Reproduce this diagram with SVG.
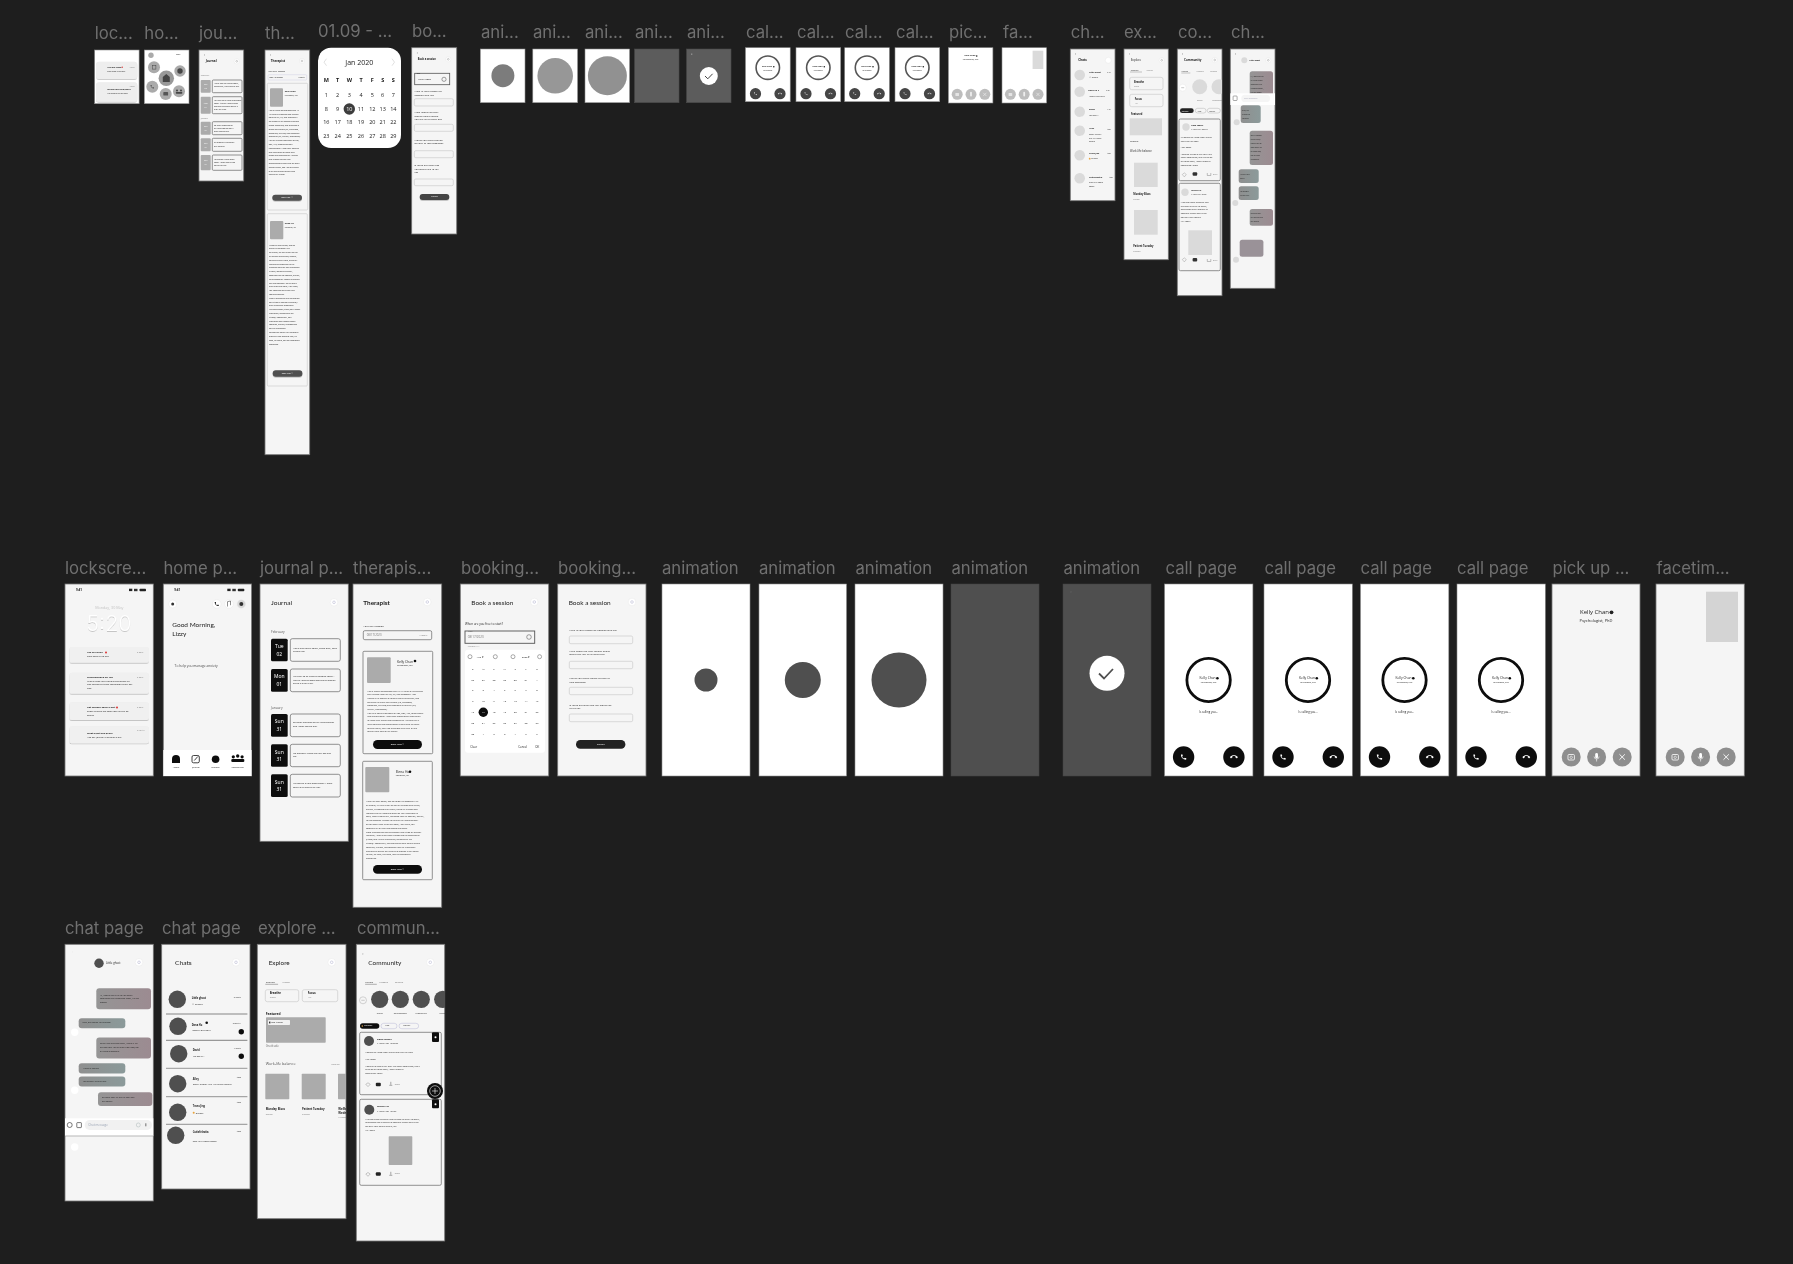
<svg xmlns="http://www.w3.org/2000/svg" width="1793" height="1264" viewBox="0 0 1793 1264">
<style>
text{font-family:"Open Sans","Noto Sans",sans-serif;fill:#1a1a1a;dominant-baseline:central}
.lbl{font-family:"Inter","Liberation Sans",sans-serif;font-size:16.700px;fill:#6f6f6f;dominant-baseline:auto}
.fr{fill:#f5f5f5;stroke:#777;stroke-width:.8}
.wh{fill:#fff;stroke:#8c8c8c;stroke-width:.6}
.dk{fill:#4f4f4f;stroke:#444;stroke-width:.6}
.box{fill:#f5f5f5;stroke:#666;stroke-width:.7}
.inp{fill:#f5f5f5;stroke:#c4c4c4;stroke-width:.6}
.ph{fill:#ababab}
.ph2{fill:#dadada}
.av{fill:#4f4f4f}
.blk{fill:#111}
.wc{fill:#fff;stroke:#e4e4e4;stroke-width:.4}
.wt{fill:#fff}
.g{fill:#777}
.b{font-weight:700}
.c{text-anchor:middle}
.e{text-anchor:end}
.s15{font-size:1.600px}.s18{font-size:1.900px}.s2{font-size:2.100px}.s23{font-size:2.300px}.s25{font-size:2.500px}.s28{font-size:2.800px}.s3{font-size:3px}.s33{font-size:3.300px}.s37{font-size:3.700px}.s4{font-size:4px}.s5{font-size:5px}.s55{font-size:5.500px}.s6{font-size:6px}.s7{font-size:7px}
.h{font-family:"Lato",sans-serif;font-size:6.400px}
</style>
<defs>
<symbol id="i-call" viewBox="0 0 24 24"><path d="M6.600 10.800c1.400 2.800 3.800 5.100 6.600 6.600l2.200-2.200c.3-.3.700-.4 1-.2 1.100.4 2.300.6 3.600.6.600 0 1 .4 1 1V20c0 .6-.4 1-1 1C10.600 21 3 13.400 3 4c0-.6.4-1 1-1h3.500c.6 0 1 .4 1 1 0 1.200.2 2.400.6 3.600.1.300 0 .7-.2 1z"/></symbol>
<symbol id="i-end" viewBox="0 0 24 24"><path d="M12 9c-1.600 0-3.100.3-4.600.7v3.100c0 .4-.2.700-.6.900-1 .5-1.900 1.100-2.700 1.900-.2.200-.4.300-.7.300s-.5-.1-.7-.3L.3 13.100c-.2-.2-.3-.4-.3-.7s.1-.5.300-.7C3.300 8.800 7.400 7 12 7s8.700 1.800 11.700 4.700c.2.200.3.400.3.700s-.1.500-.3.700l-2.500 2.500c-.2.200-.4.300-.7.300s-.5-.1-.7-.3c-.8-.8-1.700-1.400-2.700-1.900-.3-.2-.6-.5-.6-.9V9.700C15.100 9.300 13.600 9 12 9z"/></symbol>
<linearGradient id="gOut" x1="0" y1="0" x2="1" y2="0"><stop offset="0" stop-color="#959595"/><stop offset="1" stop-color="#9c8b91"/></linearGradient>
<linearGradient id="gIn" x1="0" y1="0" x2="1" y2="0"><stop offset="0" stop-color="#8f8f8f"/><stop offset="1" stop-color="#8b9a9a"/></linearGradient>
<filter id="soft" x="0" y="0" width="1793" height="1264" filterUnits="userSpaceOnUse"><feGaussianBlur stdDeviation="0.35"/></filter>
<filter id="sh" x="-10%" y="-30%" width="120%" height="170%"><feDropShadow dx="0" dy=".7" stdDeviation=".6" flood-color="#000" flood-opacity=".28"/></filter>
<g id="callbody">
<rect class="wh" width="88.300" height="192"/>
<circle cx="44" cy="96" r="21.700" fill="none" stroke="#0c0c0c" stroke-width="2.800"/>
<text class="c s28" x="43" y="94.300" textLength="16" lengthAdjust="spacingAndGlyphs">Kelly Chan</text><circle cx="52.800" cy="94.300" r="1.300" fill="#111"/>
<text class="c s18" x="44" y="98.300">Psychologist, PhD</text>
<text class="c s28" x="44" y="128.300">Is calling you...</text>
<circle class="blk" cx="19" cy="173" r="10.700"/><use href="#i-call" x="15.500" y="169.500" width="7" height="7" fill="#fff"/>
<circle class="blk" cx="69.300" cy="173" r="10.700"/><use href="#i-end" x="65.300" y="169" width="8" height="8" fill="#fff"/>
</g>
<g id="calltop">
<rect class="wh" width="44.700" height="54"/>
<circle cx="22.300" cy="20" r="11.700" fill="none" stroke="#555" stroke-width="1.600"/>
<text class="c s18 b" x="21.500" y="19">Kelly Chan</text><circle cx="28.300" cy="19" r=".8" fill="#222"/>
<text class="c s15" x="22.300" y="22.500">Psychologist</text>
<circle cx="10" cy="46" r="5.600" fill="#444"/><use href="#i-call" x="8" y="44" width="4" height="4" fill="#ddd"/>
<circle cx="34.500" cy="46" r="5.600" fill="#444"/><use href="#i-end" x="32.300" y="43.800" width="4.400" height="4.400" fill="#ddd"/>
</g>
<g id="gbtns">
<circle cx="0" cy="0" r="9.500" fill="#8e8e8e"/><rect x="-3.200" y="-2.500" width="6.400" height="5.500" rx="1" fill="none" stroke="#fff" stroke-width=".8"/><circle cy=".3" r="1.200" fill="none" stroke="#fff" stroke-width=".6"/>
<circle cx="25.400" cy="0" r="9.500" fill="#8e8e8e"/><rect x="24" y="-4" width="2.800" height="5.500" rx="1.400" fill="#fff"/><path d="M22.900-.5a2.500 2.500 0 0 0 5 0M25.400 2v2.500" fill="none" stroke="#fff" stroke-width=".6"/>
<circle cx="51" cy="0" r="9.500" fill="#8e8e8e"/><path d="M48.300-2.700l5.400 5.400M53.700-2.700l-5.400 5.400" stroke="#fff" stroke-width=".9"/>
</g>
<g id="gbtnst">
<circle cx="0" cy="0" r="5.500" fill="#bdbdbd"/><rect x="-1.800" y="-1.400" width="3.600" height="3" rx=".5" fill="#e4e4e4"/>
<circle cx="13.800" cy="0" r="5.500" fill="#bdbdbd"/><rect x="12.900" y="-2.500" width="1.800" height="4.600" rx=".9" fill="#eee"/>
<circle cx="27.600" cy="0" r="5.500" fill="#bdbdbd"/><path d="M26-1.500l3.200 3.200M29.200-1.500l-3.200 3.200" stroke="#eee" stroke-width=".6"/>
</g>
<g id="status"><rect x="64" y="4.700" width="3.300" height="2.400" fill="#222"/><rect x="69" y="4.800" width="3.500" height="2.400" fill="#333"/><rect x="74.500" y="4.700" width="6.500" height="2.600" rx=".7" fill="#222"/></g>
<g id="srch"><circle r="3.800" class="wc"/><circle r="1.300" fill="none" stroke="#9a9ac0" stroke-width=".4"/></g>
<g id="srcht"><circle r="2.600" class="wc"/><circle r=".9" fill="none" stroke="#666" stroke-width=".3"/></g>
</defs>

<rect width="1793" height="1264" fill="#1e1e1e"/>

<g id="canvas" filter="url(#soft)">
<g id="labels">
<text class="lbl" x="94.700" y="38.500">loc...</text><text class="lbl" x="144.300" y="38.500">ho...</text><text class="lbl" x="199" y="38.500">jou...</text><text class="lbl" x="265" y="38.500">th...</text><text class="lbl" x="318" y="37">01.09 - ...</text><text class="lbl" x="412" y="37">bo...</text>
<text class="lbl" x="481" y="38">ani...</text><text class="lbl" x="533" y="38">ani...</text><text class="lbl" x="585" y="38">ani...</text><text class="lbl" x="635" y="38">ani...</text><text class="lbl" x="687" y="38">ani...</text>
<text class="lbl" x="746" y="38">cal...</text><text class="lbl" x="797" y="38">cal...</text><text class="lbl" x="845" y="38">cal...</text><text class="lbl" x="896" y="38">cal...</text><text class="lbl" x="949" y="38">pic...</text><text class="lbl" x="1003" y="38">fa...</text>
<text class="lbl" x="1070.700" y="38">ch...</text><text class="lbl" x="1124" y="38">ex...</text><text class="lbl" x="1178" y="38">co...</text><text class="lbl" x="1231" y="38">ch...</text>
<text class="lbl" x="65" y="574">lockscre...</text><text class="lbl" x="163.500" y="574">home p...</text><text class="lbl" x="260" y="574">journal p...</text><text class="lbl" x="353" y="574">therapis...</text><text class="lbl" x="461" y="574">booking...</text><text class="lbl" x="558" y="574">booking...</text>
<text class="lbl" x="662" y="574">animation</text><text class="lbl" x="759" y="574">animation</text><text class="lbl" x="855.500" y="574">animation</text><text class="lbl" x="951.500" y="574">animation</text><text class="lbl" x="1063.500" y="574">animation</text>
<text class="lbl" x="1165.500" y="574">call page</text><text class="lbl" x="1264.500" y="574">call page</text><text class="lbl" x="1360.500" y="574">call page</text><text class="lbl" x="1457" y="574">call page</text><text class="lbl" x="1552.500" y="574">pick up ...</text><text class="lbl" x="1656.500" y="574">facetim...</text>
<text class="lbl" x="65" y="934">chat page</text><text class="lbl" x="162" y="934">chat page</text><text class="lbl" x="258" y="934">explore ...</text><text class="lbl" x="357" y="934">commun...</text>
</g>

<g id="top-lock" transform="translate(94.700 50)">
<rect class="wh" width="44.400" height="53.700"/>
<rect x="1.300" y="11.700" width="41.300" height="17.300" rx="3" fill="#eee" filter="url(#sh)"/><rect x="1.300" y="32.300" width="41.300" height="19.400" rx="3" fill="#eee" filter="url(#sh)"/>
<text class="s2 b" x="12.600" y="17.300">You are loved</text><text class="s18" x="12.600" y="21.300">Time goes by so well</text><text class="s15 g" x="35" y="17">5 days</text><circle cx="27.500" cy="17.300" r=".7" fill="#d33"/>
<text class="s2 b" x="12.600" y="39.300">Where have you been?</text><text class="s18" x="12.600" y="43.300">We missed you 30 days</text><text class="s15 g" x="35" y="36">5 days</text>
</g>
<g id="top-home" transform="translate(144.300 50)">
<rect class="wh" width="44.700" height="53.700"/>
<text class="s2 b" x="32" y="4.300">9:41</text>
<circle cx="6.700" cy="5.300" r="2.700" fill="#aaa"/><circle cx="22" cy="28.300" r="7.700" fill="#999"/><path d="M18.500 32v-5l3.500-3 3.500 3v5z" fill="#444"/>
<circle cx="9.700" cy="17.300" r="6" fill="#aaa"/><rect x="8" y="15.500" width="3.600" height="3.600" fill="none" stroke="#444" stroke-width=".5"/>
<circle cx="35.700" cy="21" r="5.700" fill="#aaa"/><circle cx="35.700" cy="21" r="2.700" fill="#444"/>
<circle cx="8" cy="36.700" r="6" fill="#aaa"/><use href="#i-call" x="5.700" y="34.500" width="4.500" height="4.500" fill="#444"/>
<circle cx="34.700" cy="41.300" r="6" fill="#aaa"/><circle cx="32.700" cy="40.500" r="1" fill="#444"/><circle cx="36.700" cy="40.500" r="1" fill="#444"/><rect x="31.500" y="42" width="6.500" height="1.800" rx=".7" fill="#444"/>
<circle cx="21.400" cy="44" r="6" fill="#aaa"/><rect x="19" y="42" width="4.800" height="3.600" rx=".7" fill="#555"/>
</g>
<g id="top-journal" transform="translate(199 50)">
<rect class="fr" width="44.700" height="131"/>
<text class="s3" x="5" y="5">‹</text><text class="s3 b" x="6.700" y="11.300">Journal</text><use href="#srcht" x="37.700" y="11.300"/>
<text class="s2 g" x="1.700" y="25.700">February</text>
<rect class="ph" x="1.700" y="30" width="10" height="12.700" rx="1"/><rect class="box" x="13.300" y="30" width="29.700" height="12.700" rx="1"/>
<text class="s18" x="15" y="33.500">Had a bad day earlier today,</text><text class="s18" x="15" y="36.500">that's okay, can't believe me.</text>
<rect class="ph" x="1.700" y="46.700" width="10" height="17" rx="1"/><rect class="box" x="13.300" y="46.700" width="29.700" height="17" rx="1"/>
<text class="s18" x="15" y="50">I'm lucky to be back to perform</text><text class="s18" x="15" y="53">today. Maybe I should start</text><text class="s18" x="15" y="56">working on getting out of a</text><text class="s18" x="15" y="59">busy life cycle.</text>
<text class="s2 g" x="1.700" y="68.300">January</text>
<rect class="ph" x="1.700" y="71.700" width="10" height="13" rx="1"/><rect class="box" x="13.300" y="71.700" width="29.700" height="13" rx="1"/>
<text class="s18" x="15" y="75">So many thoughts on</text><text class="s18" x="15" y="78">my mind tonight and I</text><text class="s18" x="15" y="81">don't feeling fine.</text>
<rect class="ph" x="1.700" y="88.300" width="10" height="13" rx="1"/><rect class="box" x="13.300" y="88.300" width="29.700" height="13" rx="1"/>
<text class="s18" x="15" y="92.500">It's probably just to the</text><text class="s18" x="15" y="96">day not bad.</text>
<rect class="ph" x="1.700" y="105" width="10" height="15.300" rx="1"/><rect class="box" x="13.300" y="105" width="29.700" height="15.300" rx="1"/>
<text class="s18" x="15" y="109">I'm feeling a little down</text><text class="s18" x="15" y="112">today. I hope there is an</text><text class="s18" x="15" y="115">end to my day.</text>
<g class="s18 c"><text class="wt" x="6.700" y="34">Tue</text><text class="wt" x="6.700" y="38">02</text><text class="wt" x="6.700" y="53">Mon</text><text class="wt" x="6.700" y="57">01</text><text class="wt" x="6.700" y="76">Sun</text><text class="wt" x="6.700" y="80">31</text><text class="wt" x="6.700" y="93">Sun</text><text class="wt" x="6.700" y="97">31</text><text class="wt" x="6.700" y="110">Sun</text><text class="wt" x="6.700" y="114">31</text></g>
</g>
<g id="top-therapist" transform="translate(265 50)">
<rect class="fr" width="44.700" height="404.700"/>
<text class="s3" x="5" y="5">‹</text><text class="s3 b" x="5.700" y="11">Therapist</text><use href="#srcht" x="37" y="11"/>
<text class="s2" x="3" y="21.300">Your next session</text>
<rect x="3" y="24.700" width="38.700" height="5.300" rx="1" fill="#f5f5f5" stroke="#c8c8e0" stroke-width=".4"/><text class="s25" x="4.500" y="27.400">08/17/2020</text><text class="s18" x="33" y="27.400">1:30PM</text>
<rect x="2.300" y="33.300" width="40.400" height="126.700" rx="1" fill="#f5f5f5" stroke="#c6c6c6" stroke-width=".6"/>
<rect class="ph" x="5" y="38.300" width="13" height="18.400" rx="1"/>
<text class="s2 b" x="19.700" y="41.300">Kelly Chan</text><text class="s15" x="19.700" y="45">Psychologist, PhD</text>
<g class="s18"><text x="3.700" y="60.300">I am a clinical psychologist with 15-</text><text x="3.700" y="64.100">19 years of expertise with training</text><text x="3.700" y="67.900">from the US, UK, and Singapore. I</text><text x="3.700" y="71.700">am trained in all aspects of mental</text><text x="3.700" y="75.500">health difficulties, and specialise in</text><text x="3.700" y="79.300">stress and trauma (e.g, childhood,</text><text x="3.700" y="83.100">workplace, bullying) and emotional</text><text x="3.700" y="86.900">difficulties (e.g, anxiety, depression).</text><text x="3.700" y="90.700">I will be a holistic approach of CBT,</text><text x="3.700" y="94.500">DBT, ACT, mindfulness and</text><text x="3.700" y="98.300">interpersonal. I also enjoy working</text><text x="3.700" y="102.100">with individuals to reach their</text><text x="3.700" y="105.900">needs and personalities. I believe</text><text x="3.700" y="109.700">that it takes courage and</text><text x="3.700" y="113.500">commitment to seek help for one's</text><text x="3.700" y="117.300">mental health, and I am privileged</text><text x="3.700" y="121.100">to be part of that journey with</text><text x="3.700" y="124.900">each of my clients.</text></g>
<rect x="7.300" y="144.700" width="29.700" height="6" rx="3" fill="#4f4f4f" filter="url(#sh)"/><text class="c s18 wt" x="22" y="147.700">Book Now ♡</text>
<rect x="2.300" y="163.700" width="40" height="172.300" rx="1" fill="#f5f5f5" stroke="#c6c6c6" stroke-width=".6"/>
<rect class="ph" x="5" y="171" width="13.300" height="18.300" rx="1"/>
<text class="s2 b" x="19.700" y="173.300">Elena Ho</text><text class="s15" x="19.700" y="177">Counsellor, Inc</text>
<g class="s18"><text x="4" y="195">When the ever opens, and we</text><text x="4" y="198.800">might be impossibly full</text><text x="4" y="202.600">as human, it's true to say we can</text><text x="4" y="206.400">all struggle with stress, difficult,</text><text x="4" y="210.200">struggling every place, being full</text><text x="4" y="214">feelings and thoughts can be</text><text x="4" y="217.800">triggered when we face transitions</text><text x="4" y="221.600">in work, identifying quality,</text><text x="4" y="225.400">spending time for comfort, anxiety,</text><text x="4" y="229.200">to relationships. Change to thereby</text><text x="4" y="233">the unpredictable. So you don't</text><text x="4" y="236.800">have to do this alone, I will listen;</text><text x="4" y="240.600">you complete set of help and</text><text x="4" y="244.400">coping strategies.</text><text x="4" y="248.200">From a counselling and Psychology</text><text x="4" y="252">and CMBS or Therapy therapist, I</text><text x="4" y="255.800">have experience supporting</text><text x="4" y="259.600">Neurodivergent (LMBS) and Autistic</text><text x="4" y="263.400">individuals, members of the</text><text x="4" y="267.200">LMBTQ+ community, and</text><text x="4" y="271">individuals with mental health</text><text x="4" y="274.800">concerns, trauma, relationships</text><text x="4" y="278.600">and life transitions.</text><text x="4" y="282.400">Therapeutic Space: my created to</text><text x="4" y="286.200">provide a safe space to heal, be</text><text x="4" y="290">seen, be heard, and be emotionally</text><text x="4" y="294">supported.</text></g>
<rect x="7.700" y="320.300" width="29.700" height="6.400" rx="3.200" fill="#4f4f4f" filter="url(#sh)"/><text class="c s18 wt" x="22.500" y="323.500">Book Now ♡</text>
</g>
<g id="top-calendar" transform="translate(318 47.700)">
<rect width="83" height="100.300" rx="13" fill="#fff"/>
<path d="M8.500 11l-2.500 3.500 2.500 3.500M74 11l2.500 3.500-2.500 3.500" fill="none" stroke="#d8d8d8" stroke-width=".8"/>
<text class="c s7" x="41.300" y="14.600">Jan 2020</text>
<g class="s55" style="font-weight:700;text-anchor:middle">
<text x="8.300" y="32.300">M</text><text x="19.700" y="32.300">T</text><text x="31.300" y="32.300">W</text><text x="43" y="32.300">T</text><text x="54.300" y="32.300">F</text><text x="64.700" y="32.300">S</text><text x="75.300" y="32.300">S</text></g>
<circle cx="31.300" cy="61.300" r="5.700" fill="#3c3c3c"/>
<g class="s55" style="text-anchor:middle">
<text x="8.300" y="47.600">1</text><text x="19.700" y="47.600">2</text><text x="31.300" y="47.600">3</text><text x="43" y="47.600">4</text><text x="54.300" y="47.600">5</text><text x="64.700" y="47.600">6</text><text x="75.300" y="47.600">7</text>
<text x="8.300" y="61.300">8</text><text x="19.700" y="61.300">9</text><text class="wt" x="31.300" y="61.300">10</text><text x="43" y="61.300">11</text><text x="54.300" y="61.300">12</text><text x="64.700" y="61.300">13</text><text x="75.300" y="61.300">14</text>
<text x="8.300" y="74.600">16</text><text x="19.700" y="74.600">17</text><text x="31.300" y="74.600">18</text><text x="43" y="74.600">19</text><text x="54.300" y="74.600">20</text><text x="64.700" y="74.600">21</text><text x="75.300" y="74.600">22</text>
<text x="8.300" y="88">23</text><text x="19.700" y="88">24</text><text x="31.300" y="88">25</text><text x="43" y="88">26</text><text x="54.300" y="88">27</text><text x="64.700" y="88">28</text><text x="75.300" y="88">29</text></g>
</g>
<g id="top-booking" transform="translate(411.700 47.700)">
<rect class="fr" width="45" height="186.300"/>
<text class="s3" x="5" y="5.600">‹</text><text class="s25 b" x="6" y="11.600">Book a session</text><use href="#srcht" x="36.600" y="11.600"/>
<rect x="3" y="25.600" width="35" height="11.400" fill="#f5f5f5" stroke="#555" stroke-width=".8"/><text class="s25" x="6" y="31.600">10/01/2020</text><circle cx="32.300" cy="31.600" r="2.100" fill="none" stroke="#444" stroke-width=".5"/><text class="s15" x="5" y="25.600">Date</text>
<g class="s25"><text x="2.700" y="43.300">What is your reason for</text><text x="2.700" y="47">booking with us?</text><text x="2.700" y="64.300">What aspect on your</text><text x="2.700" y="68">mental health would</text><text x="2.700" y="71.600">you like us to touch on?</text><text x="2.700" y="92">Would you prefer online</text><text x="2.700" y="95.600">or Face-to-face sessions?</text><text x="2.700" y="117.300">Is there anything else</text><text x="2.700" y="121">you would like to tell</text><text x="2.700" y="124.600">us?</text></g>
<rect class="inp" x="2.600" y="51" width="39" height="7.300" rx="1.500"/><rect class="inp" x="2.600" y="76.600" width="39" height="7" rx="1.500"/><rect class="inp" x="2.600" y="103" width="39" height="7" rx="1.500"/><rect class="inp" x="2.600" y="131.300" width="39" height="6.700" rx="1.500"/>
<rect x="8" y="146.300" width="29.600" height="6" rx="3" fill="#444" filter="url(#sh)"/><text class="c s18 wt" x="22.800" y="149.300">Submit</text>
</g>

<g id="top-ani1" transform="translate(480.300 49)"><rect class="wh" width="44.700" height="53.700"/><circle cx="22.600" cy="26.700" r="11.500" fill="#7c7c7c"/></g>
<g id="top-ani2" transform="translate(532.800 49)"><rect class="wh" width="44.800" height="53.700"/><circle cx="22.400" cy="26.800" r="17.800" fill="#979797"/></g>
<g id="top-ani3" transform="translate(585 49)"><rect class="wh" width="44.600" height="53.700"/><circle cx="22.400" cy="26.700" r="19.500" fill="#919191"/></g>
<g id="top-ani4" transform="translate(634.600 49)"><rect width="44.400" height="53.700" fill="#5c5c5c" stroke="#4a4a4a" stroke-width=".6"/></g>
<g id="top-ani5" transform="translate(686.600 49)"><rect width="44.400" height="53.700" fill="#5c5c5c" stroke="#4a4a4a" stroke-width=".6"/><rect x="4.500" y="4.500" width="1.200" height="1.400" fill="#999"/><circle cx="22.200" cy="27" r="9" fill="#fff"/><path d="M18.400 27l2.800 2.800 4.800-5" fill="none" stroke="#444" stroke-width="1"/></g>
<use id="top-call1" href="#calltop" x="745.500" y="47.700"/>
<use id="top-call2" href="#calltop" x="796" y="47.700"/>
<use id="top-call3" href="#calltop" x="844.700" y="47.700"/>
<use id="top-call4" href="#calltop" x="895" y="47.700"/>
<g id="top-pick" transform="translate(948.400 47.700)"><rect class="wh" width="44.500" height="55.300"/><text class="c s2 b" x="21.500" y="8.300">Kelly Chan</text><circle cx="28.300" cy="8.300" r=".8" fill="#222"/><text class="c s18" x="22.200" y="12">Psychologist, PhD</text><use href="#gbtnst" x="8.800" y="46.600"/></g>
<g id="top-face" transform="translate(1002 47.700)"><rect class="wh" width="44.600" height="55.300"/><rect class="ph2" x="30.600" y="3" width="10.700" height="18.300"/><use href="#gbtnst" x="8.400" y="46.600"/></g>

<g id="top-chats" transform="translate(1070.300 49)">
<rect class="fr" width="44.700" height="151.700"/>
<svg width="44.700" height="152" overflow="hidden">
<text class="s3" x="5" y="5.300">‹</text><text class="s3 b" x="8" y="11.300">Chats</text><circle cx="38" cy="11.300" r="3" class="wc"/>
<g class="ph2"><circle cx="9.400" cy="26" r="5.300"/><circle cx="9.400" cy="42.700" r="5.300"/><circle cx="9.400" cy="62.700" r="5.300"/><circle cx="9.400" cy="81.700" r="5.300"/><circle cx="9.400" cy="106.300" r="5.300"/><circle cx="9.400" cy="129.300" r="5.300"/></g>
<g class="s2"><text class="b" x="18.700" y="23">Little ghost</text><text x="18.700" y="28.300">☺ Sticker</text><text class="b" x="18" y="41">Dana Ho ●</text><text x="18.700" y="47">How's your day?</text><text class="b" x="18.700" y="60.300">David</text><text x="18.700" y="66.700">I'm sorry...</text><text class="b" x="18.700" y="79.700">Alley</text><text x="18.700" y="85">Don't stress...</text><text x="18.700" y="89">but it's funny</text><text x="18.700" y="92.700">Belkin</text><text class="b" x="18.700" y="104.300">Trans Jing</text><text x="21" y="109.700">Sticker</text><text class="b" x="18.700" y="128">Cutiefelestia</text><text x="18.700" y="133.700">Talk to u again</text><text x="18.700" y="137.300">soon!</text></g>
<circle cx="19.400" cy="109.700" r=".9" fill="#e8a33c"/>
<g class="s15 g"><text x="37" y="23">5:43</text><text x="36" y="41">5:32</text><text x="37" y="60.300">4:40</text><text x="37" y="79.700">Mon</text><text x="37" y="104.300">Mon</text><text x="39" y="128">Mon</text></g>
</svg>
</g>
<g id="top-explore" transform="translate(1124 49)">
<rect class="fr" width="44.300" height="210.700"/>
<text class="s3" x="5" y="5.300">‹</text><text class="s3" x="6.700" y="11.300">Explore</text><use href="#srcht" x="37.700" y="11.300"/>
<text class="s2" x="6.700" y="21.300">Practice</text><text class="s2 g" x="22.300" y="21.300">Access</text><path d="M6 23h12" stroke="#444" stroke-width=".3"/>
<rect class="inp" x="5.700" y="28.300" width="33.300" height="12.400" rx="2"/><text class="s25 b" x="10" y="32.700">Breathe</text><text class="s15 g" x="10" y="36.500">2 mins</text>
<rect class="inp" x="5.700" y="45.300" width="33.300" height="12.400" rx="2"/><text class="s25 b" x="10.700" y="50">Focus</text><text class="s15 g" x="10.700" y="53.500">1 hr</text>
<text class="s25 b" x="7" y="65.300">Featured</text><rect class="ph2" x="5.700" y="69.300" width="32.300" height="17"/><text class="s18" x="6" y="92">Gratitude</text>
<text class="s25 b" x="6" y="101.700" style="fill:#777">Work-life balance</text>
<rect class="ph2" x="10" y="113.700" width="23.700" height="24.300"/><text class="s25 b" x="9.300" y="145">Monday Blocs</text><text class="s18 g" x="9.300" y="150.700">Sunday</text>
<rect class="ph2" x="10" y="161" width="23.700" height="24.700"/><text class="s25 b" x="9.300" y="197">Patient Tuesday</text><text class="s18 g" x="9.300" y="202.300">Tuesday</text>
</g>
<g id="top-community" transform="translate(1177.300 49)">
<rect class="fr" width="44.700" height="246.700"/>
<svg width="44.700" height="247" overflow="hidden">
<text class="s3" x="5" y="5.300">‹</text><text class="s3 b" x="6.700" y="11">Community</text><use href="#srcht" x="37.400" y="11"/>
<text class="s2" x="4.300" y="22.300">Circles</text><text class="s2 g" x="19.300" y="22.300">Classes</text><text class="s2 g" x="33" y="22.300">Spaces</text><path d="M4 24h9" stroke="#444" stroke-width=".3"/>
<circle cx="5.400" cy="38.700" r="3.500" class="wc"/><path d="M3.900 38.700h3" stroke="#777" stroke-width=".4"/>
<circle class="ph2" cx="22.400" cy="37.700" r="7.500"/><circle class="ph2" cx="41.700" cy="37.700" r="7.500"/>
<text class="c s18 g" x="22.400" y="51.300">Stress</text><text class="s18 g" x="35" y="51.300">Relationships</text>
<rect x="2.700" y="59.300" width="13.700" height="4.700" rx="2.300" fill="#222"/><text class="s15 wt" x="4.500" y="61.700">Trending</text>
<rect x="18" y="59.300" width="10.700" height="4.700" rx="2.300" fill="#f5f5f5" stroke="#888" stroke-width=".3"/><text class="s15" x="20.500" y="61.700">New</text>
<rect x="30" y="59.300" width="13" height="4.700" rx="2.300" fill="#f5f5f5" stroke="#888" stroke-width=".3"/><text class="s15" x="32" y="61.700">Popular</text>
<rect class="box" x="1.700" y="70" width="41.300" height="61.700" rx="1.500" stroke="#999"/>
<circle class="ph2" cx="8.700" cy="78" r="3.700"/><text class="s18 b" x="14" y="76.500">Dana Cooper</text><text class="s15" x="14" y="80">7 Hours Ago · Breathe</text>
<g class="s2"><text x="3.500" y="88">I'll wanna say thing: Don't stress</text><text x="3.500" y="92">and trust the rope</text><text x="3.500" y="98.500">I say down.</text><text x="3.500" y="105">I wanted to stop &amp; just can't talk</text><text x="3.500" y="108.700">about something, that's been on</text><text x="3.500" y="112.500">my mind away, I don't know its</text><text x="3.500" y="116.300">something...more</text></g>
<path d="M5 125.500l2-1.600 2 1.600-2 2.400z" fill="none" stroke="#888" stroke-width=".4"/><rect x="15.300" y="123.300" width="4.600" height="3.500" rx="1" fill="#333"/><path d="M30 124v2.500h3.500V124" fill="none" stroke="#666" stroke-width=".4"/><text class="s15 g" x="35.700" y="125">Share</text>
<rect class="box" x="1.700" y="134.300" width="41.300" height="87.400" rx="1.500" stroke="#999"/>
<circle class="ph2" cx="7.700" cy="143.300" r="3.700"/><text class="s18 b" x="14" y="141.700">Wendy Liu</text><text class="s15" x="14" y="145.400">7 Hours Ago · Stress</text>
<g class="s2"><text x="3.500" y="153">Wanting under pressure and</text><text x="3.500" y="157">building up belief to wisely,</text><text x="3.500" y="160.700">depression and a mother to</text><text x="3.500" y="164.300">constant silence and affect</text><text x="3.500" y="168">not only your mental</text><text x="3.500" y="172">He...more</text></g>
<rect class="ph2" x="11" y="181.300" width="23.700" height="24.700"/>
<path d="M5 210.500l2-1.600 2 1.600-2 2.400z" fill="none" stroke="#888" stroke-width=".4"/><rect x="15.300" y="209" width="4.600" height="3.500" rx="1" fill="#333"/><path d="M30 210v2.500h3.500V210" fill="none" stroke="#666" stroke-width=".4"/><text class="s15 g" x="35.700" y="211">Share</text>
</svg>
</g>
<g id="top-chat" transform="translate(1230.300 49)">
<rect class="fr" width="44.700" height="239.300"/>
<text class="s3" x="5" y="5.300">‹</text><circle class="ph2" cx="14" cy="11.300" r="3"/><text class="s18 b" x="19" y="11.300">Little ghost</text><use href="#srcht" x="38" y="11.300"/>
<rect x="19.400" y="22.300" width="23.300" height="25" rx="2.500" fill="url(#gOut)"/>
<g class="s15"><text x="20.500" y="26.500">Hi, I would like to</text><text x="20.500" y="30.500">let to you about</text><text x="20.500" y="34.500">something that</text><text x="20.500" y="38.500">happened today,</text><text x="20.500" y="42.500">it's you mood?</text></g>
<rect x="0" y="44.300" width="44.700" height="11.700" fill="#fff"/>
<rect x="2.800" y="47" width="4" height="4.500" rx=".7" fill="none" stroke="#555" stroke-width=".5"/>
<rect x="11" y="45.700" width="28.700" height="7.300" rx="3.600" fill="#f5f5f5"/><text class="s2" x="13.700" y="49.400" style="fill:#aab">Chat message</text>
<rect x="10.400" y="56.300" width="20" height="17.700" rx="2.500" fill="url(#gIn)"/>
<g class="s15"><text x="12" y="61">Sure, get</text><text x="12" y="65">ahead! I'm</text><text x="12" y="69">listening.</text></g>
<circle class="ph2" cx="6.400" cy="73.300" r="3"/>
<rect x="19.400" y="81.700" width="23.300" height="34.300" rx="2.500" fill="url(#gOut)"/>
<g class="s15"><text x="20.500" y="86">Oh it's blessed</text><text x="20.500" y="90">no my value, I</text><text x="20.500" y="94">knew it will my</text><text x="20.500" y="98">own space. I'm</text><text x="20.500" y="102">so upset now,</text><text x="20.500" y="106">not as being</text><text x="20.500" y="110">as possible.</text></g>
<rect x="8.400" y="120.300" width="20" height="13.700" rx="2.500" fill="url(#gIn)"/><text class="s15" x="10" y="125">What? Is she</text><text class="s15" x="10" y="129">okay?</text>
<rect x="8.400" y="137.300" width="20" height="13.700" rx="2.500" fill="url(#gIn)"/><text class="s15" x="10" y="142">I'm so sorry</text><text class="s15" x="10" y="146">to hear that.</text>
<circle class="ph2" cx="5" cy="154" r="3"/>
<rect x="19.400" y="160" width="23.300" height="16.700" rx="2.500" fill="url(#gOut)"/>
<text class="s15" x="20.500" y="164">So there can't</text><text class="s15" x="20.500" y="168">tell me can't she</text><text class="s15" x="20.500" y="172">my doubts.</text>
<rect x="9.400" y="190.700" width="23.700" height="17" rx="2.500" fill="#9a9298"/>
<circle class="ph2" cx="5.700" cy="210.700" r="3"/>
</g>

<g id="lockscreen" transform="translate(65 584)">
<rect class="fr" width="88.300" height="192"/>
<text class="s3 b" x="11" y="6.300">9:41</text><use href="#status"/>
<text class="c s37" x="44.300" y="23.700" style="fill:#c4c4c4">Monday, 30 May</text>
<text class="c" x="44" y="38.700" style="font-size:21.500px;fill:#fff;font-weight:300;font-family:Inter,sans-serif" filter="url(#sh)">5:20</text>
<rect x="4.300" y="63" width="79.700" height="15.700" rx="2.500" fill="#f0f0f0" filter="url(#sh)"/>
<text class="s23 b" x="22" y="68.700">You are loved</text><circle cx="41" cy="68.500" r="1" fill="#d33"/><text class="s23" x="22" y="72.500">Time goes by so well</text><text class="s2 g" x="72" y="68.500">5 days</text>
<rect x="4.300" y="88.700" width="79.700" height="21" rx="2.500" fill="#f0f0f0" filter="url(#sh)"/>
<text class="s23 b" x="22" y="93.500">Recommended for You</text><text class="s2 g" x="72" y="93">5 days</text><text class="s23" x="22" y="97.300">Mind &amp; ease your anxious thoughts? Try</text><text class="s23" x="22" y="100.700">free version of MBCT meditation every day</text><text class="s23" x="22" y="104">free.</text>
<rect x="4.300" y="118.300" width="79.700" height="17.700" rx="2.500" fill="#f0f0f0" filter="url(#sh)"/>
<text class="s23 b" x="22" y="123.700">Got yourself some credit</text><circle cx="52" cy="123.500" r="1" fill="#d33"/><text class="s2 g" x="72" y="123">5 days</text><text class="s23" x="22" y="127.700">Show yourself the same love as you do</text><text class="s23" x="22" y="131.300">others</text>
<rect x="4.300" y="142.300" width="79.700" height="17" rx="2.500" fill="#f0f0f0" filter="url(#sh)"/>
<text class="s23 b" x="22" y="149">What's best you been?</text><text class="s2 g" x="72" y="146">9:45AM</text><text class="s23" x="22" y="153.300">A30 day Journal in 30 mins a day</text>
</g>

<g id="home" transform="translate(163.300 584)">
<rect class="fr" width="88.300" height="192"/>
<text class="s3 b" x="11" y="6.300">9:41</text><use href="#status"/>
<circle cx="9.400" cy="20" r="4" class="wc"/><circle cx="9.400" cy="20" r="1.500" fill="#333"/>
<circle cx="53.400" cy="20" r="4.300" class="wc"/><use href="#i-call" x="50.700" y="17.300" width="5.400" height="5.400" fill="#111"/>
<circle cx="65.700" cy="20" r="4.300" class="wc"/><path d="M64.200 22.500v-4.800l3-.7v4.200" fill="none" stroke="#222" stroke-width=".5"/>
<circle cx="78" cy="20" r="4.300" fill="#d8d8d8" stroke="#eee" stroke-width=".4"/><circle cx="78" cy="20" r="2" fill="#333"/>
<text class="h" x="9" y="40.700" textLength="43" lengthAdjust="spacingAndGlyphs">Good Morning,</text><text class="h" x="9" y="49.700" textLength="14" lengthAdjust="spacingAndGlyphs">Lizzy</text>
<text class="s3" x="11.300" y="81.700" style="fill:#444" textLength="43" lengthAdjust="spacingAndGlyphs">To help you manage anxiety</text>
<rect y="166" width="88.300" height="26" fill="#fff"/>
<path d="M8.700 179v-4a4 4 0 0 1 8 0v4z" fill="#111"/><rect x="28.700" y="171.500" width="7.300" height="7.300" rx="1.500" fill="none" stroke="#111" stroke-width=".8"/><path d="M31 176.500l3.500-4" stroke="#111" stroke-width=".8"/><circle cx="52.300" cy="175.300" r="3.800" fill="#111"/>
<circle cx="70" cy="172.800" r="1.600" fill="#111"/><circle cx="74.400" cy="172" r="1.700" fill="#111"/><circle cx="78.800" cy="172.800" r="1.600" fill="#111"/><rect x="68" y="175" width="13" height="3" rx="1" fill="#111"/>
<g class="s23 c"><text x="12.700" y="183.300">Home</text><text x="32.400" y="183.300">Journal</text><text x="52.300" y="183.300">Explore</text><text x="74.400" y="183.300">Community</text></g>
</g>

<g id="journal" transform="translate(260 584)">
<rect class="fr" width="88.300" height="257.300"/>
<text class="h" x="11" y="18.300" textLength="21" lengthAdjust="spacingAndGlyphs">Journal</text><use href="#srch" x="74" y="18.300"/>
<text class="s33" x="11" y="47" style="fill:#555">February</text>
<g class="blk"><rect x="11" y="54.700" width="16.700" height="22.600" rx="1.500"/><rect x="11" y="85" width="16.700" height="22.700" rx="1.500"/><rect x="11" y="130" width="16.700" height="22.700" rx="1.500"/><rect x="11" y="160.300" width="16.700" height="22.400" rx="1.500"/><rect x="11" y="190.300" width="16.700" height="22.700" rx="1.500"/></g>
<g class="s5 c"><text class="wt" x="19.300" y="62">Tue</text><text class="wt" x="19.300" y="69.700">02</text><text class="wt" x="19.300" y="92.300">Mon</text><text class="wt" x="19.300" y="100">01</text><text class="wt" x="19.300" y="137.300">Sun</text><text class="wt" x="19.300" y="145">31</text><text class="wt" x="19.300" y="167.500">Sun</text><text class="wt" x="19.300" y="175.300">31</text><text class="wt" x="19.300" y="197.700">Sun</text><text class="wt" x="19.300" y="205.300">31</text></g>
<rect class="box" x="30.300" y="54.700" width="50" height="22.600" rx="2"/><rect class="box" x="30.300" y="85" width="50" height="22.700" rx="2"/><rect class="box" x="30.300" y="130" width="50" height="22.700" rx="2"/><rect class="box" x="30.300" y="160.300" width="50" height="22.400" rx="2"/><rect class="box" x="30.300" y="190.300" width="50" height="22.700" rx="2"/>
<g class="s23"><text x="33" y="64">Had a bad earlier today, that's okay, can't</text><text x="33" y="67.500">believe me.</text><text x="33" y="92.500">I'm lucky to be back to perform today...</text><text x="33" y="96">Maybe I should start working on getting</text><text x="33" y="99.500">out of a busy cycle.</text><text x="33" y="138.500">So many thoughts on my mind tonight</text><text x="33" y="142">and I don't feeling fine.</text><text x="33" y="169">It's probably just to the day not bad</text><text x="33" y="172.500">life.</text><text x="33" y="199.500">I'm feeling a little down today. I hope</text><text x="33" y="203">there is an end to my day.</text></g>
<text class="s33" x="11" y="123.700" style="fill:#555">January</text>
</g>

<g id="therapist" transform="translate(353 584)">
<rect class="fr" width="88.700" height="323.300"/>
<text class="h b" x="10.300" y="18.700" textLength="26.700" lengthAdjust="spacingAndGlyphs">Therapist</text><use href="#srch" x="74.300" y="18"/>
<text class="s25" x="10.300" y="42.300">Your next session</text>
<rect class="box" x="10.300" y="46.700" width="68.400" height="9" rx="1.500"/><text class="s28 g" x="13.700" y="51">08/17/2020</text><text class="s23 g" x="66.300" y="51">1:30PM</text>
<rect class="box" x="10" y="67.300" width="69.700" height="102.400" rx="1"/>
<rect class="ph" x="14" y="73.300" width="23.700" height="25.700" rx="1"/>
<text class="s33" x="44" y="77">Kelly Chan</text><circle cx="62" cy="77" r="1.300" fill="#111"/><text class="s18" x="44" y="81">Psychologist, PhD</text>
<g class="s2"><text x="14.300" y="107">I am a clinical psychologist with 15-19 years of experience</text><text x="14.300" y="110.700">with training from the US, UK, and Singapore. I am</text><text x="14.300" y="114.400">trained in all aspects of mental health difficulties, and</text><text x="14.300" y="118.100">specialise in stress and trauma (e.g, childhood,</text><text x="14.300" y="121.800">workplace, bullying) and emotional difficulties (e.g,</text><text x="14.300" y="125.500">anxiety, depression).</text><text x="14.300" y="129.200">I will be a holistic approach of CBT, DBT, ACT, mindfulness</text><text x="14.300" y="132.900">and interpersonal. I also enjoy working with individuals</text><text x="14.300" y="136.600">to reach their needs and personalities. I believe that it</text><text x="14.300" y="140.300">takes courage and commitment to seek help for one's</text><text x="14.300" y="144">mental health, and I am privileged to be part of that</text><text x="14.300" y="147.700">journey with each of my clients.</text></g>
<rect class="blk" x="20" y="156" width="49" height="9" rx="4.500"/><text class="c s23 wt" x="44.500" y="160.500">Book Now ♡</text>
<rect class="box" x="9.700" y="177.300" width="69.600" height="118.400" rx="1"/>
<rect class="ph" x="12.300" y="183" width="24" height="25.300" rx="1"/>
<text class="s33" x="42.700" y="187.700">Elena Ho</text><circle cx="57" cy="187.700" r="1.300" fill="#111"/><text class="s18" x="42.700" y="191.700">Counsellor, Inc</text>
<g class="s2"><text x="13" y="217.700">When the ever opens, and we might be impossibly full</text><text x="13" y="221.500">as human, it's true to say we can all struggle with stress,</text><text x="13" y="225.300">difficult, struggling every place, being full feelings and</text><text x="13" y="229.100">thoughts can be triggered when we face transitions in</text><text x="13" y="232.900">work, identifying quality, spending time for comfort, anxiety,</text><text x="13" y="236.700">to relationships. Change to thereby the unpredictable.</text><text x="13" y="240.500">So you don't have to do this alone, I will listen; you</text><text x="13" y="244.300">complete set of help and coping strategies.</text><text x="13" y="248.100">From a counselling and Psychology and CMBS or Therapy</text><text x="13" y="251.900">therapist, I have experience supporting Neurodivergent</text><text x="13" y="255.700">(LMBS) and Autistic individuals, members of the</text><text x="13" y="259.500">LMBTQ+ community, and individuals with mental health</text><text x="13" y="263.300">concerns, trauma, relationships and life transitions.</text><text x="13" y="267.100">Therapeutic Space: my created to provide a safe space</text><text x="13" y="270.900">to heal, be seen, be heard, and be emotionally</text><text x="13" y="274.700">supported.</text></g>
<rect class="blk" x="20" y="281" width="49" height="8.700" rx="4.300"/><text class="c s23 wt" x="44.500" y="285.300">Book Now ♡</text>
</g>

<g id="booking1" transform="translate(460.300 584)">
<rect class="fr" width="88.400" height="192"/>
<text class="h" x="11" y="18.300" textLength="42" lengthAdjust="spacingAndGlyphs">Book a session</text><use href="#srch" x="74" y="18"/>
<text class="s3" x="4.700" y="40">When are you free to start?</text>
<rect x="4.700" y="47" width="69.700" height="12.300" fill="#f5f5f5" stroke="#555" stroke-width=".9"/><text class="s18" x="8" y="47" style="fill:#555">Date</text><text class="s3 g" x="7.400" y="53">08/17/2020</text><circle cx="68.700" cy="53" r="2.300" fill="none" stroke="#444" stroke-width=".5"/>
<text class="s18 g" x="7.400" y="62">MM/DD/YYYY</text>
<rect x="4.700" y="65.700" width="80" height="103" rx="3" fill="#fff"/>
<g fill="none" stroke="#555" stroke-width=".5"><circle cx="9.700" cy="72.700" r="2"/><circle cx="35" cy="72.700" r="2"/><circle cx="52.700" cy="72.700" r="2"/><circle cx="79.300" cy="72.700" r="2"/></g>
<g class="s25" style="fill:#666"><text class="c" x="20" y="72.700">Aug ▾</text><text class="c" x="65.700" y="72.700">2020 ▾</text></g>
<g class="s25 c" style="fill:#555">
<text x="12.400" y="85">S</text><text x="23" y="85">M</text><text x="33.700" y="85">T</text><text x="44.400" y="85">W</text><text x="55" y="85">T</text><text x="65.700" y="85">F</text><text x="76.700" y="85">S</text>
<text x="12.400" y="95.700">26</text><text x="23" y="95.700">27</text><text x="33.700" y="95.700">28</text><text x="44.400" y="95.700">29</text><text x="55" y="95.700">30</text><text x="65.700" y="95.700">31</text><text x="76.700" y="95.700">1</text>
<text x="12.400" y="106.300">2</text><text x="23" y="106.300">3</text><text x="33.700" y="106.300">4</text><text x="44.400" y="106.300">5</text><text x="55" y="106.300">6</text><text x="65.700" y="106.300">7</text><text x="76.700" y="106.300">8</text>
<text x="12.400" y="117.300">9</text><text x="23" y="117.300">10</text><text x="33.700" y="117.300">11</text><text x="44.400" y="117.300">12</text><text x="55" y="117.300">13</text><text x="65.700" y="117.300">14</text><text x="76.700" y="117.300">15</text>
<text x="12.400" y="128.300">16</text><circle cx="23" cy="128.300" r="4.700" fill="#0a0a0a"/><text class="wt" x="23" y="128.300">17</text><text x="33.700" y="128.300">18</text><text x="44.400" y="128.300">19</text><text x="55" y="128.300">20</text><text x="65.700" y="128.300">21</text><text x="76.700" y="128.300">22</text>
<text x="12.400" y="139">23</text><text x="23" y="139">24</text><text x="33.700" y="139">25</text><text x="44.400" y="139">26</text><text x="55" y="139">27</text><text x="65.700" y="139">28</text><text x="76.700" y="139">29</text>
<text x="12.400" y="149.700">30</text><text x="23" y="149.700">1</text><text x="33.700" y="149.700">2</text><text x="44.400" y="149.700">3</text><text x="55" y="149.700">4</text><text x="65.700" y="149.700">5</text><text x="76.700" y="149.700">6</text></g>
<g class="s28 c" style="fill:#444"><text x="13.400" y="162.700">Clear</text><text x="62.400" y="162.700">Cancel</text><text x="77" y="162.700">OK</text></g>
</g>

<g id="booking2" transform="translate(557.700 584)">
<rect class="fr" width="88.300" height="192"/>
<text class="h" x="11" y="18.300" textLength="42" lengthAdjust="spacingAndGlyphs">Book a session</text><use href="#srch" x="74.300" y="18"/>
<g class="s25" style="fill:#333"><text x="11.600" y="45.700">What is your reason for booking with us?</text><text x="11.600" y="66.700">What aspect on your mental health</text><text x="11.600" y="70.300">would you like us to touch on?</text><text x="11.600" y="94.300">Would you prefer online or Face-to-</text><text x="11.600" y="98">face sessions?</text><text x="11.600" y="120.700">Is there anything else you would like</text><text x="11.600" y="124.300">to tell us?</text></g>
<rect class="inp" x="11.600" y="52" width="63.400" height="7.700" rx="1.500" stroke="#b8b8b8"/><rect class="inp" x="11.600" y="77.300" width="63.400" height="7.400" rx="1.500" stroke="#b8b8b8"/><rect class="inp" x="11.600" y="103.300" width="63.400" height="7.400" rx="1.500" stroke="#b8b8b8"/><rect class="inp" x="11.600" y="130" width="63.400" height="7.700" rx="1.500" stroke="#b8b8b8"/>
<rect x="18.300" y="156" width="49.400" height="8.700" rx="4.300" fill="#222"/><text class="c s23 wt" x="43" y="160.300">Submit</text>
</g>

<g id="anim1" transform="translate(662 584)"><rect class="wh" width="88" height="192"/><circle cx="44" cy="96" r="11.500" fill="#4f4f4f"/></g>
<g id="anim2" transform="translate(759 584)"><rect class="wh" width="87.500" height="192"/><circle cx="43.800" cy="96" r="18" fill="#4f4f4f"/></g>
<g id="anim3" transform="translate(855 584)"><rect class="wh" width="88" height="192"/><circle cx="44" cy="96" r="27.500" fill="#4f4f4f"/></g>
<g id="anim4" transform="translate(951 584)"><rect class="dk" width="88" height="192"/></g>
<g id="anim5" transform="translate(1063 584)"><rect class="dk" width="88" height="192"/><text class="s3" x="7.500" y="7.500" style="fill:#888">‹</text><circle cx="44" cy="89.300" r="17.500" fill="#fff"/><path d="M36 89.500l5 5 9-9.500" fill="none" stroke="#4f4f4f" stroke-width="1.800"/></g>

<use id="call1" href="#callbody" x="1164.600" y="584"/>
<use id="call2" href="#callbody" x="1264" y="584"/>
<use id="call3" href="#callbody" x="1360.500" y="584"/>
<use id="call4" href="#callbody" x="1457" y="584"/>

<g id="pickup" transform="translate(1552 584)">
<rect class="fr" width="88" height="192"/>
<text class="c s5" x="42.500" y="28.300" textLength="29" lengthAdjust="spacingAndGlyphs">Kelly Chan</text><circle cx="59.500" cy="28.300" r="1.900" fill="#222"/><text class="c s33" x="44" y="36.300" textLength="33" lengthAdjust="spacingAndGlyphs">Psychologist, PhD</text>
<use href="#gbtns" x="19.200" y="173"/>
</g>
<g id="facetime" transform="translate(1656 584)">
<rect class="fr" width="88.300" height="192"/>
<rect x="50" y="7.700" width="32" height="50.300" fill="#d4d4d4"/>
<use href="#gbtns" x="19.200" y="173"/>
</g>

<g id="chatpage" transform="translate(65 944.300)">
<rect class="fr" width="88.300" height="256.700"/>
<text class="s3" x="7" y="8" style="fill:#ddd">‹</text><circle class="av" cx="34" cy="19" r="4.700"/><text class="s28" x="41" y="19">Little ghost</text><use href="#srch" x="74" y="18"/>
<rect x="31.300" y="44" width="54.700" height="21" rx="3" fill="url(#gOut)"/><g class="s2"><text x="35" y="51">Hi, I would like to let to you about</text><text x="35" y="54.700">something that happened today, it's you</text><text x="35" y="58.400">mood?</text></g>
<rect x="13.700" y="74" width="46.600" height="10" rx="3" fill="url(#gIn)"/><text class="s2" x="17.500" y="78.700">Sure, get ahead! I'm listening.</text>
<circle cx="9.700" cy="88" r="3.700" fill="#fff"/>
<rect x="31.300" y="93.300" width="54.700" height="21" rx="3" fill="url(#gOut)"/><g class="s2"><text x="35" y="99.400">Break time because today, I knew it felt</text><text x="35" y="103">my own role. I'm so upset right now, not</text><text x="35" y="107">of being as possible.</text></g>
<rect x="13.700" y="119" width="46.600" height="10.300" rx="3" fill="url(#gIn)"/><text class="s2" x="18" y="124.400">What? Is she ok?</text>
<rect x="13.700" y="132.300" width="46.600" height="10" rx="3" fill="url(#gIn)"/><text class="s2" x="18" y="137.400">I'm so sorry to hear that.</text>
<circle cx="9.700" cy="146" r="3.700" fill="#fff"/>
<rect x="33" y="148" width="54.300" height="13.700" rx="3" fill="url(#gOut)"/><text class="s2" x="37" y="153.400">So there can't let me tell can't she</text><text class="s2" x="37" y="157.400">my doubts.</text>
<rect y="174" width="88.300" height="17.700" fill="#fff"/><path d="M0 191.700h88.300" stroke="#999" stroke-width=".7"/>
<circle cx="4.700" cy="180.700" r="2.500" fill="none" stroke="#222" stroke-width=".6"/><rect x="11.800" y="178.300" width="4.600" height="5" rx=".6" fill="none" stroke="#222" stroke-width=".6"/>
<rect x="19.700" y="175.700" width="67.300" height="10" rx="5" fill="#f1f1f1"/><text class="s3" x="23.300" y="180.700" style="fill:#9aa4b4">Chat message</text>
<circle cx="73.300" cy="180.700" r="2" fill="none" stroke="#9aa" stroke-width=".4"/><rect x="80" y="179" width="1.500" height="3" fill="#999"/>
<circle cx="9.700" cy="202.700" r="3.700" fill="#fff"/>
</g>

<g id="chats" transform="translate(161.700 944.300)">
<rect class="fr" width="88.300" height="244.700"/>
<text class="h" x="13.300" y="18" textLength="16.700" lengthAdjust="spacingAndGlyphs">Chats</text><use href="#srch" x="74.300" y="18"/>
<g class="av"><circle cx="15.600" cy="55" r="8.700"/><circle cx="16.300" cy="82" r="8.700"/><circle cx="17" cy="109.400" r="8.700"/><circle cx="16" cy="139.400" r="8.700"/><circle cx="16" cy="168" r="8.700"/><circle cx="14" cy="191" r="8.700"/></g>
<g fill="none"><path d="M4.300 69.700h81.400" stroke="#aaa" stroke-width="1.600"/><path d="M4.300 96h81.400" stroke="#666" stroke-width=".8"/><path d="M4.300 124h81.400" stroke="#aaa" stroke-width="1.200"/><path d="M4.300 152.400h81.400" stroke="#777" stroke-width=".8"/><path d="M4.300 180h81.400" stroke="#777" stroke-width=".8"/></g>
<g class="s25"><text class="b" x="30" y="53.400">Little ghost</text><text x="30" y="60">☺ Sticker</text><text class="b" x="30" y="80.700">Dana Ho</text><text x="30" y="85.300">How's your day?</text><text class="b" x="31" y="106">David</text><text x="31" y="111.400">I'm sorry...</text><text class="b" x="31" y="134.700">Alley</text><text x="31" y="140">Don't stress...but it's funny Belkin</text><text class="b" x="31" y="161.700">Trans Jing</text><text x="34" y="168.400">Sticker</text><text class="b" x="31" y="187.400">Cutiefelestia</text><text x="31" y="197">Talk to u again soon!</text></g>
<circle cx="45" cy="78.500" r="1.300" fill="#111"/><circle cx="32" cy="168.400" r="1" fill="#e8a33c"/>
<g class="s2 g"><text x="72" y="53.400">5:43PM</text><text x="71" y="79.500">5:32 PM</text><text x="72" y="104.500">4:40PM</text><text x="75" y="133">Mon</text><text x="75" y="158.500">Mon</text><text x="75" y="187.500">Mon</text></g>
<circle class="blk" cx="79.600" cy="87.400" r="2.700"/><circle class="blk" cx="79.600" cy="112" r="2.700"/>
</g>

<g id="explore" transform="translate(257.300 944.300)">
<rect class="fr" width="88.700" height="274.400"/>
<svg width="88.700" height="274.400" overflow="hidden">
<text class="h" x="11.400" y="18" textLength="21" lengthAdjust="spacingAndGlyphs">Explore</text><use href="#srch" x="74.400" y="18"/>
<text class="s25" x="8.400" y="37.700">Practice</text><text class="s25 g" x="24.700" y="37.700">Access</text><path d="M8 40h12.800" stroke="#444" stroke-width=".4"/>
<rect class="inp" x="8" y="45.400" width="33.400" height="12" rx="2" stroke="#ddd"/><text class="s28 b" x="12.400" y="49">Breathe</text><text class="s18 g" x="12.400" y="53">2 mins</text>
<rect class="inp" x="45" y="45.400" width="35.400" height="12" rx="2" stroke="#ddd"/><text class="s28 b" x="50.400" y="49">Focus</text><text class="s18 g" x="50.400" y="53">1 hr</text>
<text class="s33 b" x="8.400" y="69.400">Featured</text>
<rect class="ph" x="8.700" y="73" width="59.700" height="25.400" rx=".7"/><rect x="10.700" y="75.700" width="22" height="5" rx=".7" fill="#f2f2f2"/><text class="s23" x="14" y="78.200">Sad Month</text><rect x="11.700" y="77.300" width="1.400" height="1.800" fill="#333"/>
<text class="s3 g" x="8.400" y="101.700">Gratitude</text>
<text class="s37" x="8.400" y="119.400" style="fill:#555">Work-life balance</text><text class="s25 g" x="73.700" y="119.400">View all</text>
<rect class="ph" x="8" y="129.400" width="24" height="25.600" rx=".7"/><rect class="ph" x="44.400" y="129.400" width="24" height="25.600" rx=".7"/><rect class="ph" x="80.700" y="129.400" width="24" height="25.600" rx=".7"/>
<text class="s28 b" x="8.400" y="165">Monday Blocs</text><text class="s2 g" x="8.400" y="170">Sunday</text><text class="s28 b" x="44.700" y="165">Patient Tuesday</text><text class="s2 g" x="44.700" y="170">Tuesday</text><text class="s28 b" x="81" y="165">Wellbeing</text><text class="s28 b" x="81" y="168.500">Wednesday</text><text class="s2 g" x="81" y="173">Wednesday</text>
</svg>
</g>

<g id="community" transform="translate(356.300 944.300)">
<rect class="fr" width="88.400" height="296.700"/>
<svg width="88.400" height="297" overflow="hidden">
<text class="s4" x="6" y="9" style="fill:#555">‹</text><text class="h" x="12" y="18" textLength="33" lengthAdjust="spacingAndGlyphs">Community</text><use href="#srch" x="74" y="18"/>
<text class="s25" x="9" y="37.700">Circles</text><text class="s25 g" x="23" y="37.700">Classes</text><text class="s25 g" x="38.700" y="37.700">Spaces</text><path d="M8.800 40h11.700" stroke="#444" stroke-width=".4"/>
<circle cx="6.700" cy="56" r="3.500" fill="none" stroke="#999" stroke-width=".4"/><path d="M5 56h3.400" stroke="#888" stroke-width=".4"/>
<g class="av"><circle cx="23.400" cy="55" r="8.600"/><circle cx="44" cy="55" r="8.600"/><circle cx="65" cy="55" r="8.600"/><circle cx="86.400" cy="55" r="8.600"/></g>
<g class="s2 c" style="fill:#666"><text x="23.400" y="69">Stress</text><text x="44" y="69">Relationships</text><text x="65" y="69">Productivity</text><text x="86.400" y="69">Anxiety</text></g>
<rect x="3.700" y="79" width="19.300" height="5.400" rx="2.700" fill="#111"/><text class="s18 wt" x="8" y="81.700">Trending</text><circle cx="6" cy="81.700" r=".7" fill="#e8a33c"/>
<rect x="24.700" y="79" width="16" height="5.400" rx="2.700" fill="#f5f5f5" stroke="#a8a8d0" stroke-width=".4"/><text class="s18" x="29" y="81.700">New</text>
<rect x="42.700" y="79" width="19.700" height="5.400" rx="2.700" fill="#f5f5f5" stroke="#a8a8d0" stroke-width=".4"/><text class="s18" x="47" y="81.700">Popular</text>
<rect class="box" x="3.400" y="88" width="81.600" height="62.400" rx="1.500"/>
<circle class="av" cx="12.700" cy="96.700" r="5"/><text class="s23 b" x="20.700" y="95.700">Dana Cooper</text><text class="s2" x="20.700" y="99.700">7 Hours Ago · Breathe</text><text class="s2 g" x="68" y="95.700">· · ·</text>
<rect class="blk" x="75.700" y="88" width="7" height="9.700" rx="1"/><circle cx="79.200" cy="93" r="1" fill="#fff"/>
<g class="s2"><text x="9" y="108.400">I wanna say thing: Don't stress and trust the rope</text><text x="9" y="115.400">I say down.</text><text x="9" y="122">I wanted to stop &amp; just can't talk about something, that's</text><text x="9" y="125.400">been on my mind away, I don't know its</text><text x="9" y="129.400">something...more</text></g>
<path d="M9.500 140l2.200-1.500 2.200 1.500-2.200 2.300z" fill="none" stroke="#777" stroke-width=".4"/><rect x="19.500" y="138.500" width="5" height="3.500" rx="1" fill="#222"/><path d="M33 141h3M34.500 137.500v3" stroke="#555" stroke-width=".5"/><text class="s18 g" x="38.500" y="140">Share</text>
<rect class="box" x="3.400" y="155" width="81.600" height="86" rx="1.500"/>
<rect class="blk" x="75.700" y="155" width="7" height="9" rx="1"/><circle cx="79.200" cy="160" r="1" fill="#fff"/>
<circle class="av" cx="13" cy="165.400" r="5"/><text class="s23 b" x="20.700" y="162.400">Wendy Liu</text><text class="s2" x="20.700" y="167">7 Hours Ago · Stress</text><text class="s2 g" x="68" y="162.400">· · ·</text>
<g class="s2"><text x="9" y="175.400">Wanting under pressure and building up belief to wisely,</text><text x="9" y="178.700">depression and a mother to constant silence and affect</text><text x="9" y="182.400">not only your mental health, the</text><text x="9" y="186">He...more</text></g>
<rect class="ph" x="32.400" y="192" width="23.600" height="28.700" rx=".7"/>
<path d="M9.500 229.700l2.200-1.500 2.200 1.500-2.200 2.300z" fill="none" stroke="#777" stroke-width=".4"/><rect x="19.500" y="228" width="5" height="3.500" rx="1" fill="#222"/><path d="M33 231h3M34.500 227.500v3" stroke="#555" stroke-width=".5"/><text class="s18 g" x="38.500" y="229.700">Share</text>
<circle cx="78.700" cy="146.700" r="8" fill="#0a0a0a"/><circle cx="78.700" cy="146.700" r="5.300" fill="none" stroke="#fff" stroke-width=".6"/><path d="M75.700 146.700h6M78.700 143.700v6" stroke="#fff" stroke-width=".6"/>
</svg>
</g>
</g>
</svg>
